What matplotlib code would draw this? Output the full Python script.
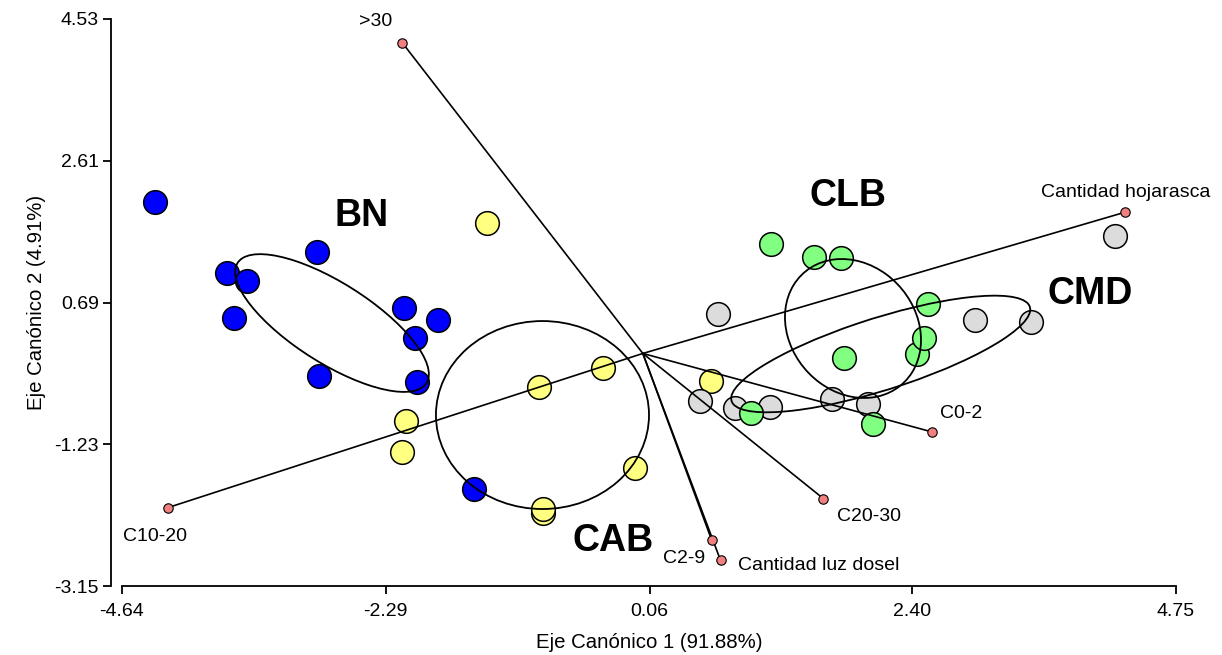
import numpy as np
import matplotlib
matplotlib.use("Agg")
import matplotlib.pyplot as plt
from matplotlib.patches import Ellipse

plt.rcParams['font.family'] = ['Liberation Sans', 'DejaVu Sans']

# puntajes canonicos de los sitios por tipo de bosque
bn_x = [-4.346, -2.900, -3.707, -3.524, -3.640, -2.128, -1.822, -2.030, -2.882, -2.015, -1.501]
bn_y = [2.055, 1.378, 1.086, 0.985, 0.476, 0.620, 0.453, 0.205, -0.305, -0.383, -1.840]

cab_x = [-1.386, -0.358, -0.922, 0.607, -2.110, -2.143, -0.070, -0.887, -0.887]
cab_y = [1.771, -0.201, -0.450, -0.373, -0.915, -1.331, -1.552, -2.165, -2.111]

cmd_x = [4.206, 0.672, 2.957, 3.455, 0.509, 0.821, 1.133, 1.683, 2.009]
cmd_y = [1.591, 0.530, 0.453, 0.430, -0.644, -0.743, -0.721, -0.621, -0.689]

clb_x = [1.139, 1.528, 1.765, 2.538, 2.440, 2.507, 1.795, 0.961, 2.053]
clb_y = [1.482, 1.310, 1.289, 0.674, -0.012, 0.213, -0.058, -0.803, -0.960]

# variables ambientales (vectores desde el origen)
var_names = ['>30', 'Cantidad hojarasca', 'C10-20', 'C0-2', 'C20-30', 'C2-9', 'Cantidad luz dosel']
var_x = [-2.143, 4.293, -4.232, 2.579, 1.609, 0.613, 0.692]
var_y = [4.209, 1.912, -2.089, -1.064, -1.967, -2.527, -2.802]
var_off = [(-19, 15.5), (1, 14), (-9, -20.5), (21, 13), (33, -12.5), (-20, -13.5), (71, -3.5)]

# elipses por grupo: centro, desvios y correlacion
grupos = ['BN', 'CAB', 'CLB', 'CMD']
elip_cx = [-2.769, -0.894, 1.872, 2.119]
elip_cy = [0.412, -0.834, 0.338, -0.007]
elip_sx = [0.863, 0.949, 0.606, 1.332]
elip_sy = [0.933, 1.273, 0.941, 0.790]
elip_r = [-0.742, 0.0, -0.165, 0.762]
grupo_tx = [-2.505, -0.261, 1.832, 3.984]
grupo_ty = [1.862, -2.540, 2.126, 0.805]

xticks = [-4.64, -2.29, 0.06, 2.40, 4.75]
yticks = [-3.15, -1.23, 0.69, 2.61, 4.53]

fig = plt.figure(figsize=(12.22, 6.55), dpi=100)
ax = fig.add_axes([0.0998, 0.1053, 0.8626, 0.8657])

pt_kw = dict(s=290, edgecolors='black', linewidths=1.1, zorder=2)
ax.scatter(bn_x, bn_y, c='#0000ff', **pt_kw)
ax.scatter(cab_x, cab_y, c='#ffff80', **pt_kw)
ax.scatter(cmd_x, cmd_y, c='#dcdcdc', **pt_kw)
ax.scatter(clb_x, clb_y, c='#80ff80', **pt_kw)

for cx, cy, sx, sy, r in zip(elip_cx, elip_cy, elip_sx, elip_sy, elip_r):
    cov = np.array([[sx**2, r * sx * sy], [r * sx * sy, sy**2]])
    vals, vecs = np.linalg.eigh(cov)
    ang = np.degrees(np.arctan2(vecs[1, 1], vecs[0, 1]))
    e = Ellipse((cx, cy), 2 * np.sqrt(vals[1]), 2 * np.sqrt(vals[0]), angle=ang,
                fill=False, edgecolor='black', lw=1.3, zorder=3)
    ax.add_patch(e)

for name, vx, vy, off in zip(var_names, var_x, var_y, var_off):
    ax.plot([0, vx], [0, vy], color='black', lw=1.2, zorder=3)
    ax.annotate(name, (vx, vy), xytext=off, textcoords='offset points',
                ha='center', va='center', fontsize=14)
ax.scatter(var_x, var_y, s=46, c='#f08080', edgecolors='black', linewidths=0.8, zorder=4)

for g, tx, ty in zip(grupos, grupo_tx, grupo_ty):
    ax.text(tx, ty, g, ha='center', va='center', fontsize=27, fontweight='bold')

ax.set_xlim(-4.64, 4.75)
ax.set_ylim(-3.15, 4.53)
ax.set_xticks(xticks, [f'{t:.2f}' for t in xticks])
ax.set_yticks(yticks, [f'{t:.2f}' for t in yticks])
ax.spines['top'].set_visible(False)
ax.spines['right'].set_visible(False)
ax.spines['left'].set_position(('outward', 8))
for s in ('left', 'bottom'):
    ax.spines[s].set_linewidth(1.3)
ax.tick_params(direction='out', length=5.5, width=1.3, labelsize=14, pad=3)
ax.tick_params(axis='x', pad=7)

ax.set_xlabel('Eje Canónico 1 (91.88%)', fontsize=14.7, labelpad=9)
ax.set_ylabel('Eje Canónico 2 (4.91%)', fontsize=14.7, labelpad=6)

fig.savefig('out.png', dpi=100)
